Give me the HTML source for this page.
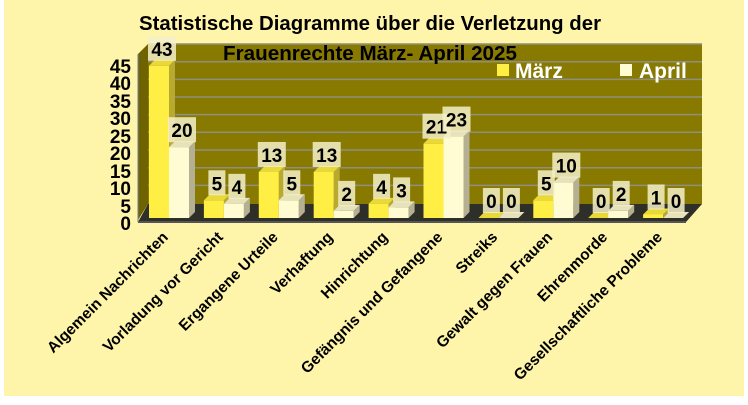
<!DOCTYPE html>
<html><head><meta charset="utf-8"><style>
html,body{margin:0;padding:0;background:#fff;}
svg{display:block;font-family:"Liberation Sans",sans-serif;}
</style></head><body>
<svg width="748" height="405" viewBox="0 0 748 405">
<rect x="4" y="0" width="740" height="396" fill="#FFF5AA"/>
<polygon points="148,44 702,44 702,204 148,204" fill="#887A00"/>
<polygon points="138,54 148,44 148,204 138,220" fill="#6E6300"/>
<g stroke="#8f8f80" stroke-width="1.5">
<line x1="148" y1="44" x2="702" y2="44"/><line x1="148" y1="61.7" x2="702" y2="61.7"/>
<line x1="148" y1="79.4" x2="702" y2="79.4"/><line x1="148" y1="97" x2="702" y2="97"/>
<line x1="148" y1="114.6" x2="702" y2="114.6"/><line x1="148" y1="132.3" x2="702" y2="132.3"/>
<line x1="148" y1="150" x2="702" y2="150"/><line x1="148" y1="167.7" x2="702" y2="167.7"/>
<line x1="148" y1="185.4" x2="702" y2="185.4"/>
</g>
<polygon points="148,204 702,204 686,222 138,222" fill="#2f2f2a"/>
<line x1="138" y1="222" x2="686" y2="222" stroke="#555" stroke-width="2"/>
<line x1="138" y1="54" x2="138" y2="222" stroke="#6a7fa0" stroke-width="1"/>
<g font-weight="bold" font-size="20" fill="#000" text-anchor="middle">
<text x="370" y="30" textLength="462" lengthAdjust="spacingAndGlyphs">Statistische Diagramme über die Verletzung der</text>
<text x="370" y="60" textLength="294" lengthAdjust="spacingAndGlyphs">Frauenrechte März- April 2025</text>
</g>
<rect x="497" y="64" width="12" height="12" fill="#FFEE44"/>
<text x="515" y="78" font-size="21" font-weight="bold" fill="#fff">März</text>
<rect x="620" y="64" width="12" height="12" fill="#FFFBD2"/>
<text x="639" y="78" font-size="21" font-weight="bold" fill="#fff">April</text>
<g font-size="19" font-weight="bold" text-anchor="end" fill="#000">
<text x="131" y="230">0</text><text x="131" y="213">5</text><text x="131" y="195">10</text>
<text x="131" y="178">15</text><text x="131" y="160">20</text><text x="131" y="143">25</text>
<text x="131" y="125">30</text><text x="131" y="108">35</text><text x="131" y="90">40</text>
<text x="131" y="73">45</text>
</g>
<g id="bars"></g>
<g id="labels" font-size="15.5" font-weight="bold" fill="#000" text-anchor="end"></g>
</svg>
<script>
var m=[43,5,13,13,4,21,0,5,0,1],a=[20,4,5,2,3,23,0,10,2,0];
var cats=["Algemein Nachrichten","Vorladung vor Gericht","Ergangene Urteile","Verhaftung","Hinrichtung","Gefängnis und Gefangene","Streiks","Gewalt gegen Frauen","Ehrenmorde","Gesellschaftliche Probleme"];
var ns="http://www.w3.org/2000/svg",B=document.getElementById("bars"),L=document.getElementById("labels");
function el(t,at,p){var e=document.createElementNS(ns,t);for(var k in at)e.setAttribute(k,at[k]);(p||B).appendChild(e);return e;}
var base=218,s=3.54,d=6,w=20;
function bar(x,v,front,top,side){var h=v*s,y=base-h;
 el("polygon",{points:(x+w)+","+y+" "+(x+w+d)+","+(y-d)+" "+(x+w+d)+","+(base-d)+" "+(x+w)+","+base,fill:side});
 el("polygon",{points:x+","+y+" "+(x+d)+","+(y-d)+" "+(x+w+d)+","+(y-d)+" "+(x+w)+","+y,fill:top});
 if(h>0)el("rect",{x:x,y:y,width:w,height:h,fill:front});
 return y;}
function lab(cx,y,v){var t=String(v),bw=t.length*11+6;
 el("rect",{x:cx-bw/2,y:y-30,width:bw,height:25,fill:"#F5F0C8","fill-opacity":"0.85"});
 var e=el("text",{x:cx,y:y-10,"font-size":"19","font-weight":"bold","text-anchor":"middle"});e.textContent=t;}
for(var i=0;i<10;i++){var x=149+i*54.9;
 var y1=bar(x,m[i],"#FFEE44","#E8D838","#B8AA30");
 var y2=bar(x+w,a[i],"#FFFBD2","#E6E2BC","#B5B092");
 lab(x+w/2+3,y1,m[i]);lab(x+w+w/2+3,y2,a[i]);
 var cx=x+w,cy=238;
 var t=el("text",{transform:"translate("+cx+","+cy+") rotate(-45)"},L);t.textContent=cats[i];}
</script>
</body></html>
